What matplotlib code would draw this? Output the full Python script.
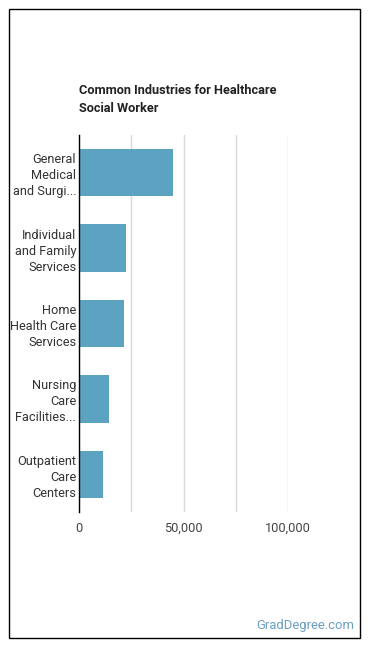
import matplotlib
matplotlib.use('Agg')
import matplotlib.pyplot as plt
from matplotlib.patches import Rectangle
from matplotlib.ticker import FuncFormatter

industries = ['General\nMedical\nand Surgi...',
              'Individual\nand Family\nServices',
              'Home\nHealth Care\nServices',
              'Nursing\nCare\nFacilities...',
              'Outpatient\nCare\nCenters']
workers = [45000, 22600, 21700, 14500, 11600]
x_ticks = [0, 50000, 100000]

plt.rcParams['font.family'] = ['Roboto', 'DejaVu Sans']

W, H = 370, 648
fig = plt.figure(figsize=(W / 100, H / 100), dpi=100)

# outer frame
fig.patches.append(Rectangle((8.5 / W, 1 - 637.5 / H), 351 / W, 629 / H,
                             transform=fig.transFigure, fill=False,
                             edgecolor='black', linewidth=1))

ax = fig.add_axes([79 / W, 1 - 512 / H, (288 - 79) / W, (512 - 135) / H])

pos = list(range(len(industries)))
ax.barh(pos, workers, height=0.63, color='#5ca3c1', zorder=2)
ax.set_ylim(len(industries) - 0.5, -0.5)
ax.set_xlim(0, 100000)

ax.set_xticks([0, 25000, 50000, 75000, 100000])
ax.xaxis.set_major_formatter(FuncFormatter(
    lambda v, p: f'{int(v):,}' if v in x_ticks else ''))
ax.grid(axis='x', color='#d9d9d9', linewidth=1, zorder=0)
ax.set_yticks(pos)
ax.set_yticklabels(industries, fontsize=9.2, color='#333333', linespacing=1.3)
ax.tick_params(axis='both', length=0)
ax.tick_params(axis='x', pad=7, labelsize=9.2, labelcolor='#444444')
ax.tick_params(axis='y', pad=2)

for s in ['top', 'right', 'bottom']:
    ax.spines[s].set_visible(False)
ax.spines['left'].set_color('black')
ax.spines['left'].set_linewidth(1)

fig.text(79 / W, 1 - 84 / H, 'Common Industries for Healthcare\nSocial Worker',
         fontsize=9.2, fontweight='bold', color='#222222', va='top', ha='left',
         linespacing=1.45)

fig.text(354 / W, 1 - 626 / H, 'GradDegree.com', fontsize=9.4,
         color='#6a9fc0', ha='right', va='center')

fig.savefig('out.png', dpi=100)
